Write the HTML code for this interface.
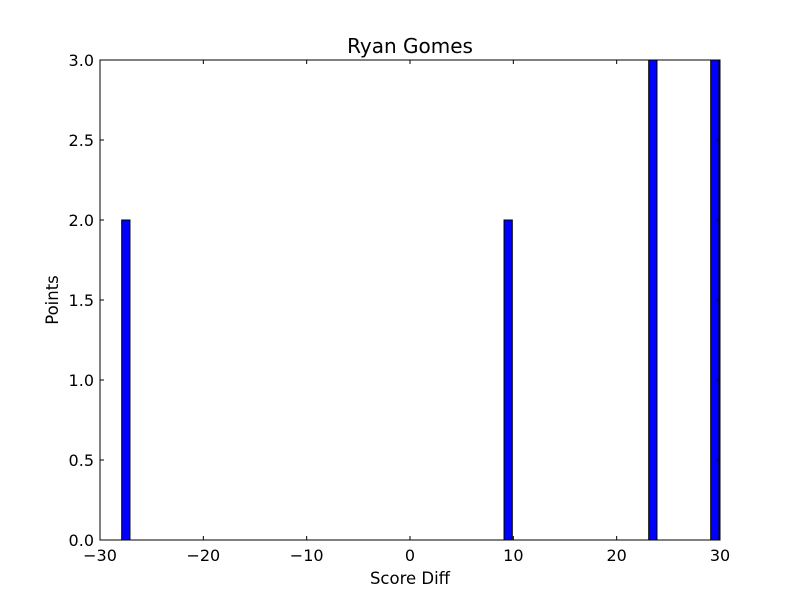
<!DOCTYPE html>
<html><head><meta charset="utf-8"><style>
body{margin:0;background:#fff}
text{font-family:"DejaVu Sans","Liberation Sans",sans-serif;fill:#000}
</style></head><body>
<svg id="chart" width="800" height="600">
<rect width="800" height="600" fill="#fff"/>
<g id="bars"></g>
<g id="axes"></g>
</svg>
<script>
const categories = [-28, 9, 23, 29];
const values = [2, 2, 3, 3];
const xTicks = [-30, -20, -10, 0, 10, 20, 30];
const yTicks = [0, 0.5, 1.0, 1.5, 2.0, 2.5, 3.0];
const X0=100,X1=720,Y0=540,Y1=60;
const xs=v=>X0+(v+30)/60*(X1-X0);
const ys=v=>Y0-v/3*(Y0-Y1);
const NS="http://www.w3.org/2000/svg";
function mk(tag,attrs,parent){const e=document.createElementNS(NS,tag);for(const k in attrs)e.setAttribute(k,attrs[k]);parent.appendChild(e);return e;}
const bars=document.getElementById('bars'), axes=document.getElementById('axes');
categories.forEach((c,i)=>{
  const x1=xs(c+0.1), x2=xs(c+0.9);
  const r=mk('rect',{x:x1,y:ys(values[i]),width:x2-x1,height:ys(0)-ys(values[i]),fill:'#0000ff',stroke:'#000','stroke-width':1},bars);
  
  
});
const frame=mk('rect',{x:X0,y:Y1,width:X1-X0,height:Y0-Y1,fill:'none',stroke:'#000','stroke-width':1},axes);


xTicks.forEach(t=>{
  const x=xs(t);
  mk('line',{x1:x,x2:x,y1:Y0,y2:Y0-4,stroke:'#000'},axes);
  mk('line',{x1:x,x2:x,y1:Y1,y2:Y1+4,stroke:'#000'},axes);
  const tx=mk('text',{x:x,y:Y0+21,'text-anchor':'middle','font-size':16},axes);
  tx.textContent=t<0?'\u2212'+(-t):String(t);
  
  
});
yTicks.forEach(t=>{
  const y=ys(t);
  mk('line',{x1:X0,x2:X0+4,y1:y,y2:y,stroke:'#000'},axes);
  mk('line',{x1:X1,x2:X1-4,y1:y,y2:y,stroke:'#000'},axes);
  const tx=mk('text',{x:X0-6,y:y+6,'text-anchor':'end','font-size':16},axes);
  tx.textContent=t.toFixed(1);
  
  
});
</script>
<svg width="800" height="600" style="position:absolute;left:0;top:0">
<text x="410" y="53" text-anchor="middle" font-size="20">Ryan Gomes</text>
<text x="410" y="584" text-anchor="middle" font-size="16.5">Score Diff</text>
<text x="58" y="300" text-anchor="middle" font-size="16.5" transform="rotate(-90 58 300)">Points</text>
</svg>
</body></html>
